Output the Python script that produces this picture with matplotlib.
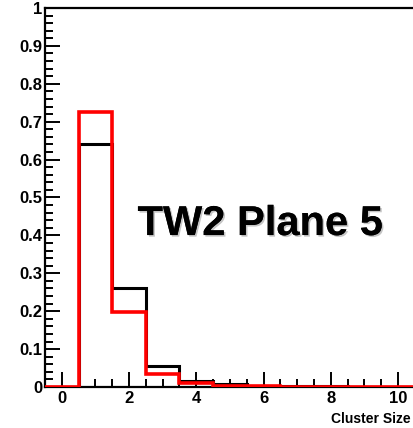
import matplotlib
matplotlib.use("Agg")
import matplotlib.pyplot as plt
import matplotlib.patheffects as pe
from matplotlib.ticker import MultipleLocator, FuncFormatter
import numpy as np

# Data
bin_centers = [0, 1, 2, 3, 4, 5, 6, 7, 8, 9, 10]
black_vals = [0.0, 0.64, 0.26, 0.055, 0.016, 0.008, 0.003, 0.002, 0.003, 0.001, 0.001]
red_vals = [0.0, 0.725, 0.198, 0.035, 0.011, 0.003, 0.002, 0.001, 0.001, 0.001, 0.0]
title_text = "TW2 Plane 5"
x_label = "Cluster Size"

plt.rcParams['font.family'] = ['Liberation Sans', 'DejaVu Sans']
plt.rcParams['font.weight'] = 'bold'

fig = plt.figure(figsize=(4.14, 4.28), dpi=100)
ax = fig.add_axes([45/414, 1 - 387/428, 1 - 45/414 + 0.002, (387 - 8)/428])

edges = np.append(np.array(bin_centers) - 0.5, bin_centers[-1] + 0.5)

def step_xy(vals):
    xs, ys = [], []
    for i, v in enumerate(vals):
        xs += [edges[i], edges[i + 1]]
        ys += [v, v]
    return xs, ys

xb, yb = step_xy(black_vals)
ax.plot(xb, yb, color='black', lw=2.2, solid_joinstyle='miter', zorder=3)
xr, yr = step_xy(red_vals)
ax.plot(xr, yr, color='#ff0000', lw=2.6, solid_joinstyle='miter', zorder=4)

ax.set_xlim(-0.5, 10.5)
ax.set_ylim(0, 1)

ax.xaxis.set_major_locator(MultipleLocator(2))
ax.xaxis.set_minor_locator(MultipleLocator(0.5))
ax.yaxis.set_major_locator(MultipleLocator(0.1))
ax.yaxis.set_minor_locator(MultipleLocator(0.02))

def yfmt(v, pos):
    if abs(v) < 1e-9:
        return "0"
    if abs(v - 1) < 1e-9:
        return "1"
    return "%.1f" % v

ax.yaxis.set_major_formatter(FuncFormatter(yfmt))
ax.xaxis.set_major_formatter(FuncFormatter(lambda v, p: "%d" % round(v)))

ax.tick_params(axis='both', which='major', direction='in', length=11, width=1.4,
               labelsize=12, pad=2)
ax.tick_params(axis='both', which='minor', direction='in', length=6, width=1.4)
ax.tick_params(axis='x', which='major', pad=3)
ax.tick_params(top=False, right=False)
for lab in ax.get_xticklabels() + ax.get_yticklabels():
    lab.set_fontweight('bold')

for s in ['left', 'bottom', 'top']:
    ax.spines[s].set_linewidth(1.6)
    ax.spines[s].set_color('black')
ax.spines['right'].set_color('#f08080')
ax.spines['right'].set_linewidth(1.5)

ax.text(5.9, 0.43, title_text, fontsize=30, fontweight='bold', ha='center',
        va='center', color='black',
        path_effects=[pe.withSimplePatchShadow(offset=(1.2, -1.2), shadow_rgbFace='gray', alpha=0.45), pe.Normal()])

fig.text(411/414, 1 - 419/428, x_label, fontsize=10, fontweight='bold',
         ha='right', va='center')

fig.savefig("out.png", dpi=100)
